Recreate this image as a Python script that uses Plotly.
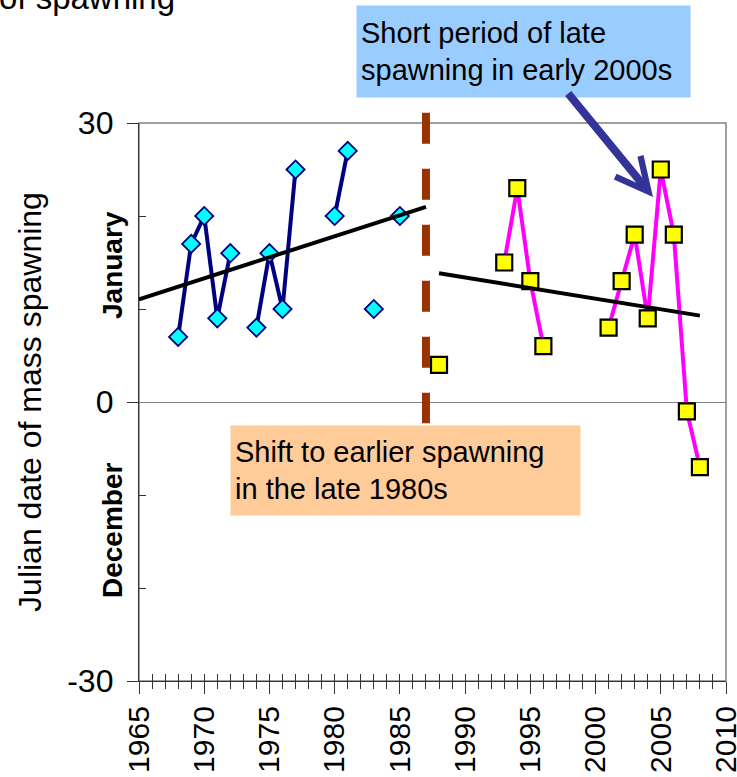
import numpy as np
import plotly.graph_objects as go

# ---------------- data ----------------
early_years = [1968, 1969, 1970, 1971, 1972, 1973, 1974, 1975, 1976, 1977,
               1978, 1979, 1980, 1981, 1982, 1983, 1984, 1985]
early_days = [7, 17, 20, 9, 16, None, 8, 16, 10, 25,
              None, None, 20, 27, None, 10, None, 20]

late_years = [1988, 1989, 1990, 1991, 1992, 1993, 1994, 1995, 1996, 1997, 1998,
              1999, 2000, 2001, 2002, 2003, 2004, 2005, 2006, 2007, 2008]
late_days = [4, None, None, None, None, 15, 23, 13, 6, None, None,
             None, None, 8, 13, 18, 9, 25, 18, -1, -7]

early_trend_span = [1965, 1987]
late_trend_span = [1988, 2008]
shift_year = 1987

x_ticks = [1965, 1970, 1975, 1980, 1985, 1990, 1995, 2000, 2005, 2010]
y_ticks = [-30, 0, 30]
y_minor = [-20, -10, 10, 20]

FONT = "Liberation Sans, Arial, sans-serif"
AX = "#333333"


def trend(years, days, span):
    xs = [x for x, y in zip(years, days) if y is not None]
    ys = [y for y in days if y is not None]
    m, b = np.polyfit(xs, ys, 1)
    return span, [m * s + b for s in span]


fig = go.Figure()

fig.add_trace(go.Scatter(
    x=early_years, y=early_days, mode="lines+markers", connectgaps=False,
    line=dict(color="#000080", width=4),
    marker=dict(symbol="diamond", size=14, color="#00FFFF",
                line=dict(color="#000080", width=1.8)),
    showlegend=False))

fig.add_trace(go.Scatter(
    x=late_years, y=late_days, mode="lines+markers", connectgaps=False,
    line=dict(color="#FF00FF", width=4),
    marker=dict(symbol="square", size=16, color="#FFFF00",
                line=dict(color="#000000", width=2.2)),
    showlegend=False))

tx, ty = trend(early_years, early_days, early_trend_span)
fig.add_trace(go.Scatter(x=tx, y=ty, mode="lines",
                         line=dict(color="#000000", width=4), showlegend=False))
tx, ty = trend(late_years, late_days, late_trend_span)
fig.add_trace(go.Scatter(x=tx, y=ty, mode="lines",
                         line=dict(color="#000000", width=4), showlegend=False))

# empty trace so the overlay axis (inner halves of cross ticks) is drawn
fig.add_trace(go.Scatter(x=[], y=[], xaxis="x2", showlegend=False, hoverinfo="skip"))

# plot-area frame (grey)
fig.add_shape(type="rect", xref="paper", yref="paper", x0=0, x1=1, y0=0, y1=1,
              line=dict(color="#808080", width=1.5), layer="below")

# vertical dashed shift line
fig.add_shape(type="line", xref="x", yref="paper", x0=shift_year, x1=shift_year,
              y0=1.0185, y1=0.4618,
              line=dict(color="#993300", width=8, dash="31px,25px"))

fig.update_layout(
    width=737, height=777,
    margin=dict(l=139, r=11, t=123, b=96, autoexpand=False),
    paper_bgcolor="white", plot_bgcolor="white",
    font=dict(family=FONT, color="black"),
    showlegend=False,
    xaxis=dict(
        range=[1965, 2010], tickmode="array", tickvals=x_ticks,
        ticktext=[str(v) for v in x_ticks], tickangle=-90,
        tickfont=dict(size=30, family=FONT, color="black"),
        ticks="outside", ticklen=12, tickwidth=1.3, tickcolor=AX,
        minor=dict(dtick=1, tick0=1965, ticks="outside", ticklen=7,
                   tickwidth=1.1, tickcolor=AX),
        showline=True, linecolor=AX, linewidth=1.3, automargin=False,
        showgrid=False, zeroline=False, ticklabelstandoff=0,
        ticklabeloverflow="allow",
    ),
    xaxis2=dict(
        overlaying="x", anchor="y", side="bottom", range=[1965, 2010],
        tickmode="array", tickvals=x_ticks, showticklabels=False,
        ticks="inside", ticklen=7, tickwidth=1.3, tickcolor=AX,
        minor=dict(dtick=1, tick0=1965, ticks="inside", ticklen=7,
                   tickwidth=1.1, tickcolor=AX),
        showline=False, showgrid=False, zeroline=False, automargin=False,
    ),
    yaxis=dict(
        range=[-30, 30], tickmode="array", tickvals=y_ticks,
        ticktext=[str(v) for v in y_ticks],
        tickfont=dict(size=32, family=FONT, color="black"),
        ticks="outside", ticklen=11, tickwidth=1.3, tickcolor=AX,
        minor=dict(tickmode="array", tickvals=y_minor, ticks="inside",
                   ticklen=7, tickwidth=1.1, tickcolor=AX),
        showline=True, linecolor=AX, linewidth=1.3, automargin=False,
        showgrid=False, zeroline=True, zerolinecolor="#808080", zerolinewidth=1.2,
        ticklabelstandoff=7, ticklabeloverflow="allow",
        title=dict(text="Julian date of mass spawning",
                   font=dict(size=32, family=FONT, color="black"), standoff=16),
    ),
)

# month labels along the y axis
fig.add_annotation(text="<b>January</b>", xref="paper", yref="paper",
                   x=-0.046, y=0.7455, xanchor="center", yanchor="middle",
                   textangle=-90, showarrow=False,
                   font=dict(size=28, family=FONT, color="black"))
fig.add_annotation(text="<b>December</b>", xref="paper", yref="paper",
                   x=-0.046, y=0.2706, xanchor="center", yanchor="middle",
                   textangle=-90, showarrow=False,
                   font=dict(size=28, family=FONT, color="black"))

# cropped heading at the very top
fig.add_annotation(text="Timing of spawning", xref="paper", yref="paper",
                   x=0.0647, y=1.189, xanchor="right", yanchor="bottom",
                   showarrow=False, font=dict(size=33, family=FONT, color="black"))

# callout boxes
fig.add_annotation(text="Short period of late<br>spawning in early 2000s",
                   xref="paper", yref="paper", x=0.3697, y=1.2115,
                   xanchor="left", yanchor="top", align="left", valign="middle",
                   width=325, height=83, borderpad=4, bgcolor="#99CCFF",
                   showarrow=False, font=dict(size=29, family=FONT, color="black"))
fig.add_annotation(text="Shift to earlier spawning<br>in the late 1980s",
                   xref="paper", yref="paper", x=0.155, y=0.4588,
                   xanchor="left", yanchor="top", align="left", valign="middle",
                   width=341, height=81, borderpad=4, bgcolor="#FFCC99",
                   showarrow=False, font=dict(size=29, family=FONT, color="black"))

# arrow to the 2005 peak
fig.add_annotation(text="", xref="paper", yref="paper", x=0.8756, y=0.8674,
                   axref="pixel", ayref="pixel", ax=-86, ay=-105,
                   showarrow=True, arrowhead=5, arrowsize=0.8, arrowwidth=8,
                   arrowcolor="#333399", standoff=0)

fig.write_html("out.html", config={"displayModeBar": False},
               post_script="document.body.style.margin='0';"
                           "document.body.style.padding='0';")
